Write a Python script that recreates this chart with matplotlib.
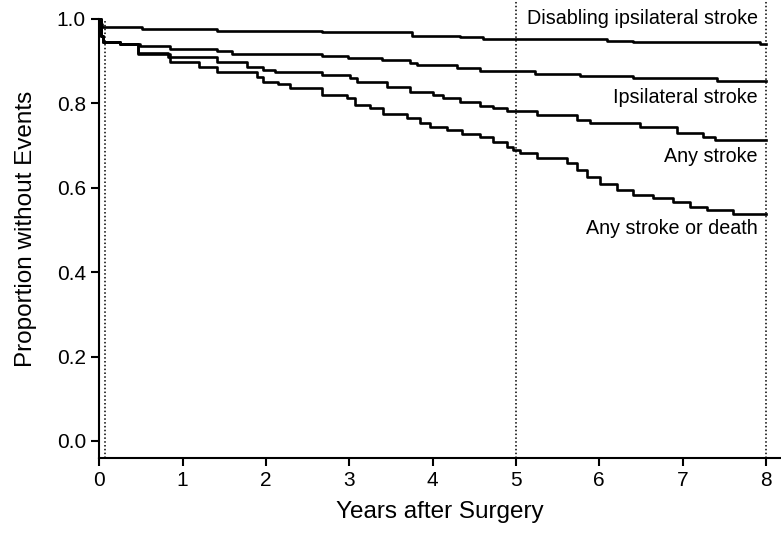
import numpy as np
import matplotlib
matplotlib.use("Agg")
import matplotlib.pyplot as plt

plt.rcParams['font.family'] = ['Liberation Sans', 'DejaVu Sans']

# step times (years) and proportion without events after each step
t_disabling = [0, 0.01, 0.03, 0.51, 1.41, 2.67, 3.75, 4.33, 4.60, 6.09, 6.40, 7.93, 8.0]
v_disabling = [1.0, 0.988, 0.981, 0.976, 0.972, 0.968, 0.960, 0.957, 0.953, 0.949, 0.945, 0.940, 0.940]

t_ipsi = [0, 0.02, 0.05, 0.25, 0.49, 0.85, 1.41, 1.59, 2.67, 2.99, 3.39, 3.73, 3.81, 4.29,
          4.57, 5.23, 5.77, 6.40, 7.41, 8.0]
v_ipsi = [1.0, 0.96, 0.945, 0.940, 0.935, 0.930, 0.924, 0.916, 0.912, 0.907, 0.903, 0.895,
          0.891, 0.883, 0.876, 0.870, 0.865, 0.861, 0.854, 0.854]

t_any = [0, 0.02, 0.05, 0.25, 0.47, 0.83, 1.41, 1.77, 1.96, 2.11, 2.67, 3.01, 3.09, 3.45,
         3.73, 4.01, 4.13, 4.33, 4.57, 4.73, 4.89, 5.25, 5.73, 5.89, 6.49, 6.93, 7.25, 7.39, 8.0]
v_any = [1.0, 0.96, 0.945, 0.940, 0.920, 0.909, 0.897, 0.887, 0.879, 0.874, 0.867, 0.859,
         0.851, 0.839, 0.828, 0.820, 0.812, 0.804, 0.794, 0.788, 0.781, 0.772, 0.760, 0.753,
         0.745, 0.729, 0.721, 0.713, 0.713]

t_death = [0, 0.02, 0.05, 0.25, 0.47, 0.85, 1.2, 1.41, 1.89, 1.96, 2.15, 2.29, 2.67, 2.97,
           3.07, 3.25, 3.41, 3.69, 3.85, 3.97, 4.17, 4.35, 4.57, 4.73, 4.89, 4.97, 5.05, 5.25,
           5.61, 5.73, 5.85, 6.01, 6.21, 6.41, 6.65, 6.89, 7.09, 7.29, 7.61, 8.0]
v_death = [1.0, 0.96, 0.945, 0.940, 0.917, 0.899, 0.887, 0.875, 0.863, 0.851, 0.845, 0.836,
           0.820, 0.812, 0.796, 0.788, 0.776, 0.765, 0.753, 0.745, 0.737, 0.727, 0.721, 0.709,
           0.697, 0.689, 0.682, 0.670, 0.658, 0.642, 0.626, 0.610, 0.594, 0.583, 0.575, 0.567,
           0.555, 0.547, 0.539, 0.539]

curve_labels = ["Disabling ipsilateral stroke", "Ipsilateral stroke", "Any stroke", "Any stroke or death"]
label_y = [1.002, 0.815, 0.675, 0.504]

fig = plt.figure(figsize=(7.81, 5.33), dpi=100)
ax = fig.add_axes([0.127, 0.141, 0.873, 0.859])

for t, v in [(t_disabling, v_disabling), (t_ipsi, v_ipsi), (t_any, v_any), (t_death, v_death)]:
    ax.step(t, v, where="post", color="black", lw=1.9)

# dotted reference lines
ax.plot([0.07, 0.07], [-0.04, 1.0], color="black", lw=1.1, ls=(0, (1, 1.5)))
for xv in [5, 8]:
    ax.axvline(xv, color="black", lw=1.1, ls=(0, (1, 1.5)))

for lab, yv in zip(curve_labels, label_y):
    ax.text(7.9, yv, lab, ha="right", va="center", fontsize=14.2)

ax.set_xlim(0, 8.18)
ax.set_ylim(-0.04, 1.045)
ax.set_xticks(range(9))
ax.set_yticks([0.0, 0.2, 0.4, 0.6, 0.8, 1.0])
ax.set_yticklabels(["0.0", "0.2", "0.4", "0.6", "0.8", "1.0"])
ax.spines["top"].set_visible(False)
ax.spines["right"].set_visible(False)
ax.spines["left"].set_bounds(-0.04, 1.0)
for s in ["left", "bottom"]:
    ax.spines[s].set_linewidth(1.5)
ax.tick_params(length=6, width=1.5, labelsize=15)
ax.set_xlabel("Years after Surgery", fontsize=17.5, labelpad=8)
ax.set_ylabel("Proportion without Events", fontsize=17.5, labelpad=14)

fig.savefig("out.png", dpi=100)
